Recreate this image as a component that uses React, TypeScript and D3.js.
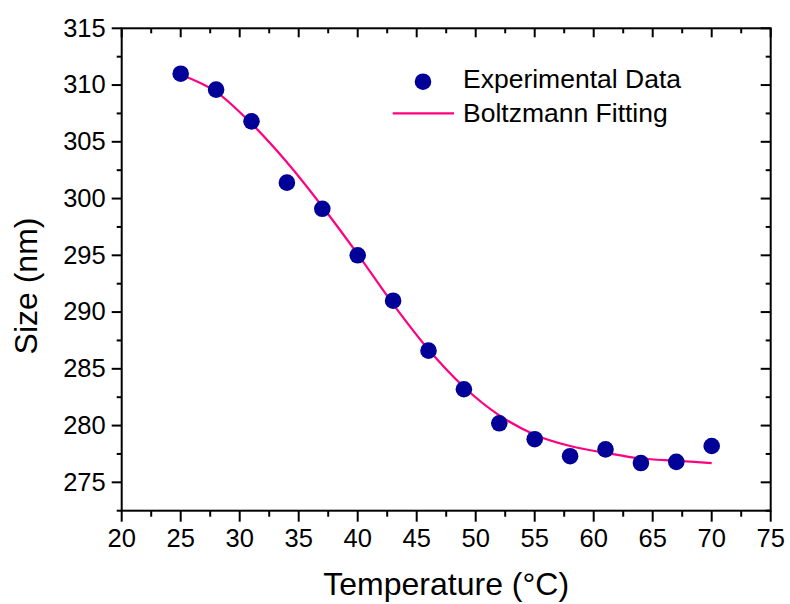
import React from 'react'
import * as d3 from 'd3'

// measured temperatures (°C) and particle sizes (nm)
const temps = [25, 28, 31, 34, 37, 40, 43, 46, 49, 52, 55, 58, 61, 64, 67, 70]
const sizes = [311.0, 309.6, 306.8, 301.4, 299.1, 295.0, 291.0, 286.6, 283.2, 280.2, 278.8, 277.3, 277.9, 276.7, 276.8, 278.2]
// Boltzmann fit at the same temperatures
const fitSizes = [310.9, 309.4, 306.6, 303.2, 299.3, 295.1, 290.7, 286.7, 283.4, 280.9, 279.2, 278.2, 277.6, 277.1, 276.9, 276.7]

const xTicks = [20, 25, 30, 35, 40, 45, 50, 55, 60, 65, 70, 75]
const yTicks = [275, 280, 285, 290, 295, 300, 305, 310, 315]

const font = 'Arial, "Liberation Sans", sans-serif'
const dotColor = '#000099'
const lineColor = '#FF0080'

const App = () => {
    const width = 790
    const height = 604
    const left = 121.7
    const right = 770.7
    const top = 28.3
    const bottom = 510.7

    const x = d3.scaleLinear().domain([20, 75]).range([left, right])
    const y = d3.scaleLinear().domain([272.5, 315]).range([bottom, top])

    const xMinor = d3.range(22.5, 75, 5)
    const yMinor = d3.range(272.5, 315, 5)

    const line = d3
          .line<number>()
          .x((d, i) => x(temps[i]))
          .y(d => y(d))
          .curve(d3.curveMonotoneX)

    const stroke = { stroke: '#000', strokeWidth: 2 }

    return (
        <svg
            width={width}
            height={height}
            style={{ position: 'absolute', left: 0, top: 0, background: '#fff' }}
            fontFamily={font}
        >
            <rect width={width} height={height} fill="#fff" />

            {/* fit curve */}
            <path d={line(fitSizes) || ''} fill="none" stroke={lineColor} strokeWidth={2.2} />

            {/* data points */}
            {temps.map((t, i) => (
                <circle key={`p${t}`} cx={x(t)} cy={y(sizes[i])} r={8.3} fill={dotColor} />
            ))}

            {/* frame */}
            <rect x={left} y={top} width={right - left} height={bottom - top} fill="none" {...stroke} />

            {/* bottom + top ticks */}
            {xTicks.map(t => (
                <g key={`xt${t}`}>
                    <line x1={x(t)} x2={x(t)} y1={bottom} y2={bottom + 11} {...stroke} />
                    <line x1={x(t)} x2={x(t)} y1={top} y2={top + 9} {...stroke} />
                    <text x={x(t)} y={bottom + 36} textAnchor="middle" fontSize={25.5}>{t}</text>
                </g>
            ))}
            {xMinor.map(t => (
                <g key={`xm${t}`}>
                    <line x1={x(t)} x2={x(t)} y1={bottom} y2={bottom + 6} {...stroke} />
                    <line x1={x(t)} x2={x(t)} y1={top} y2={top + 5} {...stroke} />
                </g>
            ))}

            {/* left + right ticks */}
            {yTicks.map(t => (
                <g key={`yt${t}`}>
                    <line x1={left - 10} x2={left} y1={y(t)} y2={y(t)} {...stroke} />
                    <line x1={right - 10} x2={right} y1={y(t)} y2={y(t)} {...stroke} />
                    <text x={left - 16} y={y(t)} dy="0.33em" textAnchor="end" fontSize={25.5}>{t}</text>
                </g>
            ))}
            {yMinor.map(t => (
                <g key={`ym${t}`}>
                    <line x1={left - 5} x2={left} y1={y(t)} y2={y(t)} {...stroke} />
                    <line x1={right - 5} x2={right} y1={y(t)} y2={y(t)} {...stroke} />
                </g>
            ))}

            {/* axis titles */}
            <text x={(left + right) / 2} y={595} textAnchor="middle" fontSize={32}>Temperature (°C)</text>
            <text transform="translate(37,286) rotate(-90)" textAnchor="middle" fontSize={32}>Size (nm)</text>

            {/* legend */}
            <circle cx={423} cy={81.7} r={8.3} fill={dotColor} />
            <text x={463} y={88} fontSize={26.5}>Experimental Data</text>
            <line x1={392.7} x2={454} y1={113.3} y2={113.3} stroke={lineColor} strokeWidth={2.2} />
            <text x={463} y={121.7} fontSize={26.5}>Boltzmann Fitting</text>
        </svg>
    )
}

export default App
